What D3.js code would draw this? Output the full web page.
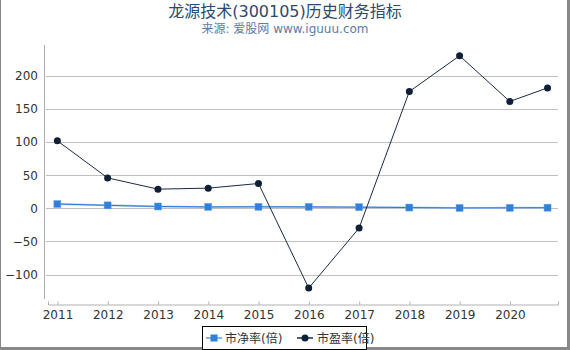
<!DOCTYPE html>
<html><head><meta charset="utf-8">
<script src="https://cdn.jsdelivr.net/npm/d3@7"></script>
<style>body{margin:0;background:#fff}svg{display:block}</style>
</head><body><svg id="c" width="570" height="350"></svg>
<script>
const dates = ["2010-12-31","2011-12-31","2012-12-31","2013-12-31","2014-12-31","2015-12-31","2016-12-31","2017-12-31","2018-12-31","2019-12-31","2020-09-30"];
const pb = [6.5, 4.5, 2.8, 2.2, 2.3, 2.2, 1.8, 1.2, 0.6, 0.8, 1.0];
const pe = [102, 46, 29, 30.5, 37.5, -120.5, -29.8, 176.5, 230.5, 161.5, 182];
const yTicks = [-100, -50, 0, 50, 100, 150, 200];
const xTickYears = [2011,2012,2013,2014,2015,2016,2017,2018,2019,2020];
const seriesNames = ["市净率(倍)", "市盈率(倍)"];

const svg = d3.select("#c");
const font = "'DejaVu Sans', 'Noto Sans CJK SC', sans-serif";
const parse = d3.timeParse("%Y-%m-%d");
const dts = dates.map(parse);

const x = d3.scaleTime().domain([new Date(2010,9,24), new Date(2020,11,15)]).range([48, 558]);
const y = d3.scaleLinear().domain([-137, 246.8]).range([299, 45]);

// frame
svg.append("rect").attr("x",0).attr("y",0).attr("width",570).attr("height",350).attr("fill","#fff");
svg.append("line").attr("x1",0.5).attr("x2",0.5).attr("y1",0).attr("y2",350).attr("stroke","#888");
svg.append("rect").attr("x",567).attr("y",0).attr("width",3).attr("height",350).attr("fill","#888");
svg.append("rect").attr("x",0).attr("y",347).attr("width",570).attr("height",3).attr("fill","#888");

// title
svg.append("text").attr("x",285).attr("y",17).attr("text-anchor","middle")
  .attr("font-family",font).attr("font-size",16).attr("fill","#2b4a6f").text("龙源技术(300105)历史财务指标");
svg.append("text").attr("x",285).attr("y",33).attr("text-anchor","middle")
  .attr("font-family",font).attr("font-size",12).attr("fill","#5b7ca6").text("来源: 爱股网 www.iguuu.com");

// grid
svg.append("g").selectAll("line").data(yTicks).join("line")
  .attr("x1",46).attr("x2",558).attr("y1",d=>Math.round(y(d))+0.5).attr("y2",d=>Math.round(y(d))+0.5)
  .attr("stroke","#c0c0c0").attr("stroke-width",1);

// y axis
svg.append("line").attr("x1",44.5).attr("x2",44.5).attr("y1",45).attr("y2",299).attr("stroke","#b0b0b0");
const yAxis = svg.append("g").attr("transform","translate(44,0)")
  .call(d3.axisLeft(y).tickValues(yTicks).tickSize(0).tickPadding(6));
yAxis.select(".domain").remove();
yAxis.selectAll("text").attr("font-family",font).attr("font-size",12).attr("fill","#333");

// x axis
const xAxis = svg.append("g").attr("transform","translate(0,304.5)")
  .call(d3.axisBottom(x).tickValues(xTickYears.map(v=>new Date(v,0,1))).tickFormat(d3.timeFormat("%Y")).tickSize(-3).tickPadding(6));
xAxis.select(".domain").attr("stroke","#b0b0b0");
xAxis.selectAll(".tick line").attr("stroke","#b0b0b0");
xAxis.selectAll("text").attr("font-family",font).attr("font-size",12).attr("fill","#333");

const line = d3.line().x((d,i)=>x(dts[i])).y(d=>y(d));
// PB
svg.append("path").datum(pb).attr("d",line).attr("fill","none").attr("stroke","#a9c9ef").attr("stroke-width",2);
svg.append("path").datum(pb).attr("d",line).attr("fill","none").attr("stroke","#2f78d2").attr("stroke-width",1);
svg.append("g").selectAll("rect").data(pb).join("rect")
  .attr("x",(d,i)=>x(dts[i])-3.5).attr("y",d=>y(d)-3.5).attr("width",7).attr("height",7)
  .attr("fill","#2f7fdb").attr("stroke","#6aa5e8").attr("stroke-width",0.5);
// PE
svg.append("path").datum(pe).attr("d",line).attr("fill","none").attr("stroke","#1a2b45").attr("stroke-width",1);
svg.append("g").selectAll("circle").data(pe).join("circle")
  .attr("cx",(d,i)=>x(dts[i])).attr("cy",d=>y(d)).attr("r",3.5).attr("fill","#0f1f36");

// legend
const lg = svg.append("g");
lg.append("rect").attr("x",202.5).attr("y",326.5).attr("width",164).attr("height",23).attr("fill","#fff").attr("stroke","#000").attr("stroke-width",1);
lg.append("line").attr("x1",206).attr("x2",222).attr("y1",338).attr("y2",338).attr("stroke","#8ab4e8").attr("stroke-width",2);
lg.append("rect").attr("x",210.5).attr("y",334.5).attr("width",7).attr("height",7).attr("fill","#2f7fdb");
lg.append("text").attr("x",225).attr("y",342.5).attr("font-family",font).attr("font-size",12).attr("fill","#333").text(seriesNames[0]);
lg.append("line").attr("x1",297).attr("x2",313).attr("y1",338).attr("y2",338).attr("stroke","#1a2b45").attr("stroke-width",1.5);
lg.append("circle").attr("cx",305).attr("cy",338).attr("r",3.5).attr("fill","#0f1f36");
lg.append("text").attr("x",317).attr("y",342.5).attr("font-family",font).attr("font-size",12).attr("fill","#333").text(seriesNames[1]);
</script></body></html>
